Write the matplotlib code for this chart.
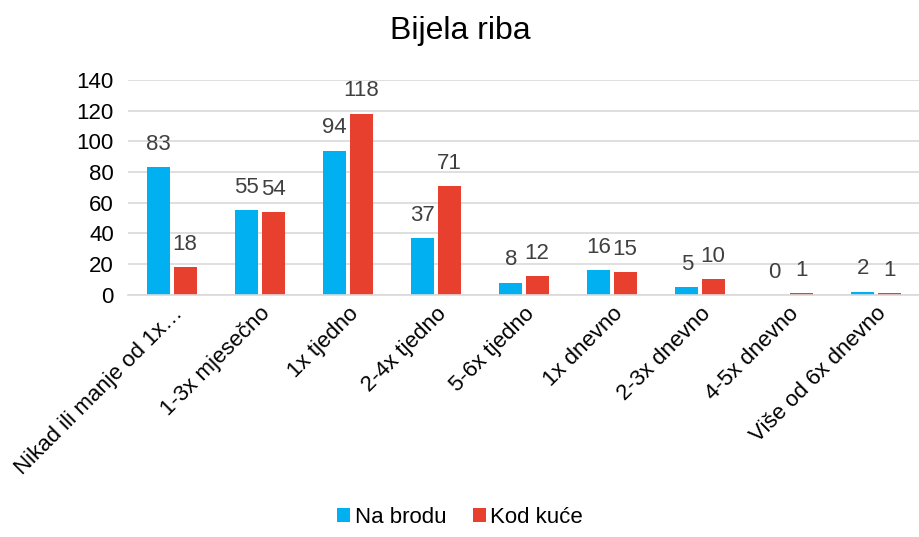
import matplotlib.pyplot as plt
import numpy as np

categories = ["Nikad ili manje od 1x…", "1-3x mjesečno", "1x tjedno", "2-4x tjedno",
              "5-6x tjedno", "1x dnevno", "2-3x dnevno", "4-5x dnevno", "Više od 6x dnevno"]
na_brodu = [83, 55, 94, 37, 8, 16, 5, 0, 2]
kod_kuce = [18, 54, 118, 71, 12, 15, 10, 1, 1]

plt.rcParams["font.family"] = ["Liberation Sans", "DejaVu Sans"]

fig = plt.figure(figsize=(9.2, 5.37), dpi=100)
ax = fig.add_axes([0.139, 0.451, 0.861, 0.40])

x = np.arange(len(categories))
w = 0.26
b1 = ax.bar(x - w / 2 - 0.02, na_brodu, w, color="#00B0F0", label="Na brodu")
b2 = ax.bar(x + w / 2 + 0.02, kod_kuce, w, color="#E8402F", label="Kod kuće")

# value labels above each bar
for bars, vals in ((b1, na_brodu), (b2, kod_kuce)):
    for bar, v in zip(bars, vals):
        ax.text(bar.get_x() + bar.get_width() / 2, v + 8, str(v),
                ha="center", va="bottom", fontsize=16, color="#404040")

ax.set_xlim(-0.5, len(categories) - 0.5)
ax.set_ylim(0, 140)
ax.set_yticks(range(0, 141, 20))
ax.yaxis.grid(True, color="#D9D9D9", linewidth=1.2)
ax.set_axisbelow(True)
for s in ["top", "right", "left"]:
    ax.spines[s].set_visible(False)
ax.spines["bottom"].set_color("#D9D9D9")
ax.spines["bottom"].set_linewidth(1.2)
ax.tick_params(axis="both", length=0, labelsize=16, colors="#000000")
ax.tick_params(axis="y", pad=10)
ax.tick_params(axis="x", pad=6)
ax.set_xticks(x)
ax.set_xticklabels(categories, rotation=45, ha="right", rotation_mode="anchor")

fig.suptitle("Bijela riba", y=0.97, fontsize=23)
fig.legend(loc="lower center", bbox_to_anchor=(0.5, -0.02), ncol=2, frameon=False,
           fontsize=16, handlelength=0.6, handleheight=0.6, handletextpad=0.2,
           columnspacing=1.2)

plt.savefig("out.png")
